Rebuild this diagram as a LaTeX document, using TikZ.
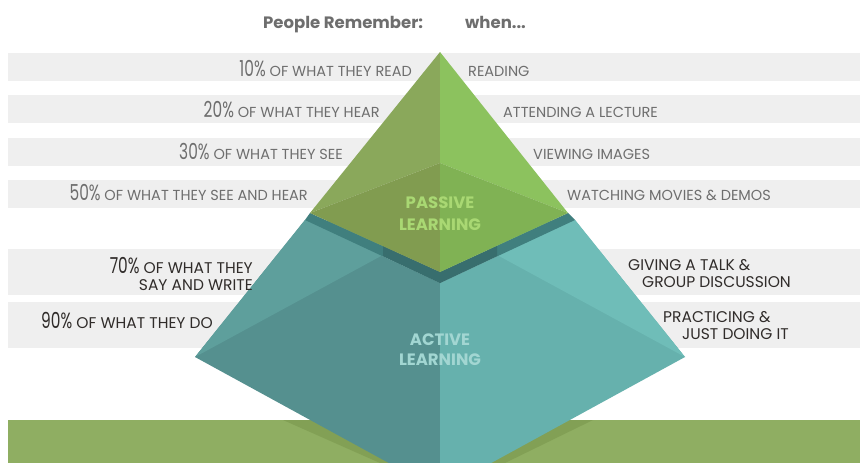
\documentclass[tikz,border=0pt]{standalone}
\usepackage{fontspec}
\setmainfont{Poppins}
\usepackage{graphicx}
\usetikzlibrary{positioning}

\definecolor{barGray}{HTML}{EFEFEF}
\definecolor{txtGray}{HTML}{6E6E6E}
\definecolor{txtDark}{HTML}{302C2A}
\definecolor{bandGreen}{HTML}{8FAE62}
\definecolor{bandShade}{HTML}{82A055}
\definecolor{gLeftUp}{HTML}{8AA85B}
\definecolor{gLeftLow}{HTML}{819C50}
\definecolor{gRightUp}{HTML}{8CC25E}
\definecolor{gRightLow}{HTML}{80B254}
\definecolor{tLeftUp}{HTML}{5E9F9C}
\definecolor{tLeftLow}{HTML}{55908F}
\definecolor{tRightUp}{HTML}{6FBDB8}
\definecolor{tRightLow}{HTML}{66B1AD}
\definecolor{tRim}{HTML}{407F7E}
\definecolor{tRimDark}{HTML}{386E6E}
\definecolor{passiveTxt}{HTML}{A9D873}
\definecolor{activeTxt}{HTML}{A2D6D2}

\newcommand{\pcnt}[1]{{\fontsize{22}{22}\selectfont\scalebox{0.7}[1]{#1\%}}}
\newcommand{\capsz}{\fontsize{14.5}{16}\selectfont}

\begin{document}
\begin{tikzpicture}[x=1pt,y=-1pt,
  lefttxt/.style={anchor=base east,inner sep=0pt,text=txtGray,font=\capsz},
  righttxt/.style={anchor=base west,inner sep=0pt,text=txtGray,font=\capsz},
  darkleft/.style={lefttxt,text=txtDark,font=\fontsize{15.5}{17}\selectfont},
  darkright/.style={righttxt,text=txtDark,font=\fontsize{15.5}{17}\selectfont},
  headtxt/.style={anchor=base west,inner sep=0pt,text=txtGray,font=\fontsize{16.5}{18}\selectfont\bfseries},
  pyrtxt/.style={anchor=base,inner sep=0pt,font=\fontsize{16.5}{18}\selectfont\bfseries}]
\useasboundingbox (0,0) rectangle (860,463);
\fill[white] (0,0) rectangle (860,463);

% bars
\fill[barGray] (8,53) rectangle (860,81);
\fill[barGray] (8,95) rectangle (860,123);
\fill[barGray] (8,138) rectangle (860,166);
\fill[barGray] (8,180) rectangle (860,208);
\fill[barGray] (8,249) rectangle (860,295);
\fill[barGray] (8,302) rectangle (860,348);
\fill[bandGreen] (8,420) rectangle (860,463);
\fill[bandShade] (283,420) -- (330,420) -- (400,463) -- (380,463) -- cycle;
\fill[bandShade] (593,420) -- (550,420) -- (480,463) -- (505,463) -- cycle;

% active part
\coordinate (TL) at (305,220);
\coordinate (TF) at (440,283);
\coordinate (TR) at (575,220);
\coordinate (VL) at (195,357);
\coordinate (VR) at (685,357);
\coordinate (VB) at (440,491);
\coordinate (H) at (440,224);
\fill[tLeftLow] (TL) -- (TF) -- (VB) -- (VL) -- cycle;
\fill[tRightLow] (TR) -- (TF) -- (VB) -- (VR) -- cycle;
\fill[tLeftUp] (VL) -- (TL) -- (H) -- cycle;
\fill[tRightUp] (VR) -- (TR) -- (H) -- cycle;

% passive part
\coordinate (A) at (440,52);
\coordinate (GL) at (310,213);
\coordinate (GB) at (440,163);
\coordinate (GR) at (568,213);
\coordinate (GF) at (440,272);
\fill[tRim] (TL) -- (TF) -- (TR) -- (GR) -- (GF) -- (GL) -- cycle;
\fill[tRimDark] (383,256) -- (TF) -- (497,256) -- (497,246) -- (GF) -- (383,246) -- cycle;
\fill[gLeftUp] (A) -- (GL) -- (GB) -- cycle;
\fill[gLeftLow] (GL) -- (GB) -- (GF) -- cycle;
\fill[gRightUp] (A) -- (GB) -- (GR) -- cycle;
\fill[gRightLow] (GB) -- (GR) -- (GF) -- cycle;

\node[pyrtxt,text=passiveTxt] (pas1) at (440,208) {PASSIVE};
\node[pyrtxt,text=passiveTxt] (pas2) at (440,230) {LEARNING};
\node[pyrtxt,text=activeTxt] (act1) at (440,345) {ACTIVE};
\node[pyrtxt,text=activeTxt] (act2) at (440,365) {LEARNING};

% headings
\node[headtxt] (remember) at (263,28) {People Remember:};
\node[headtxt] (when) at (465,28) {when...};

% left column
\node[lefttxt] (l1) at (412,76) {\pcnt{10} OF WHAT THEY READ};
\node[lefttxt] (l2) at (380,117) {\pcnt{20} OF WHAT THEY HEAR};
\node[lefttxt] (l3) at (343,159) {\pcnt{30} OF WHAT THEY SEE};
\node[lefttxt] (l4) at (308,200) {\pcnt{50} OF WHAT THEY SEE AND HEAR};
\node[darkleft] (l5a) at (253,273) {\pcnt{70} OF WHAT THEY};
\node[darkleft] (l5b) at (253,290) {SAY AND WRITE};
\node[darkleft] (l6) at (213,328) {\pcnt{90} OF WHAT THEY DO};

% right column
\node[righttxt] (r1) at (468,76) {READING};
\node[righttxt] (r2) at (503,117) {ATTENDING A LECTURE};
\node[righttxt] (r3) at (533,159) {VIEWING IMAGES};
\node[righttxt] (r4) at (567,200) {WATCHING MOVIES \& DEMOS};
\node[darkright] (r5a) at (628,270) {GIVING A TALK \&};
\node[darkright] (r5b) at (642,287) {GROUP DISCUSSION};
\node[darkright] (r6a) at (663,322) {PRACTICING \&};
\node[darkright] (r6b) at (682,339) {JUST DOING IT};
\end{tikzpicture}
\end{document}
